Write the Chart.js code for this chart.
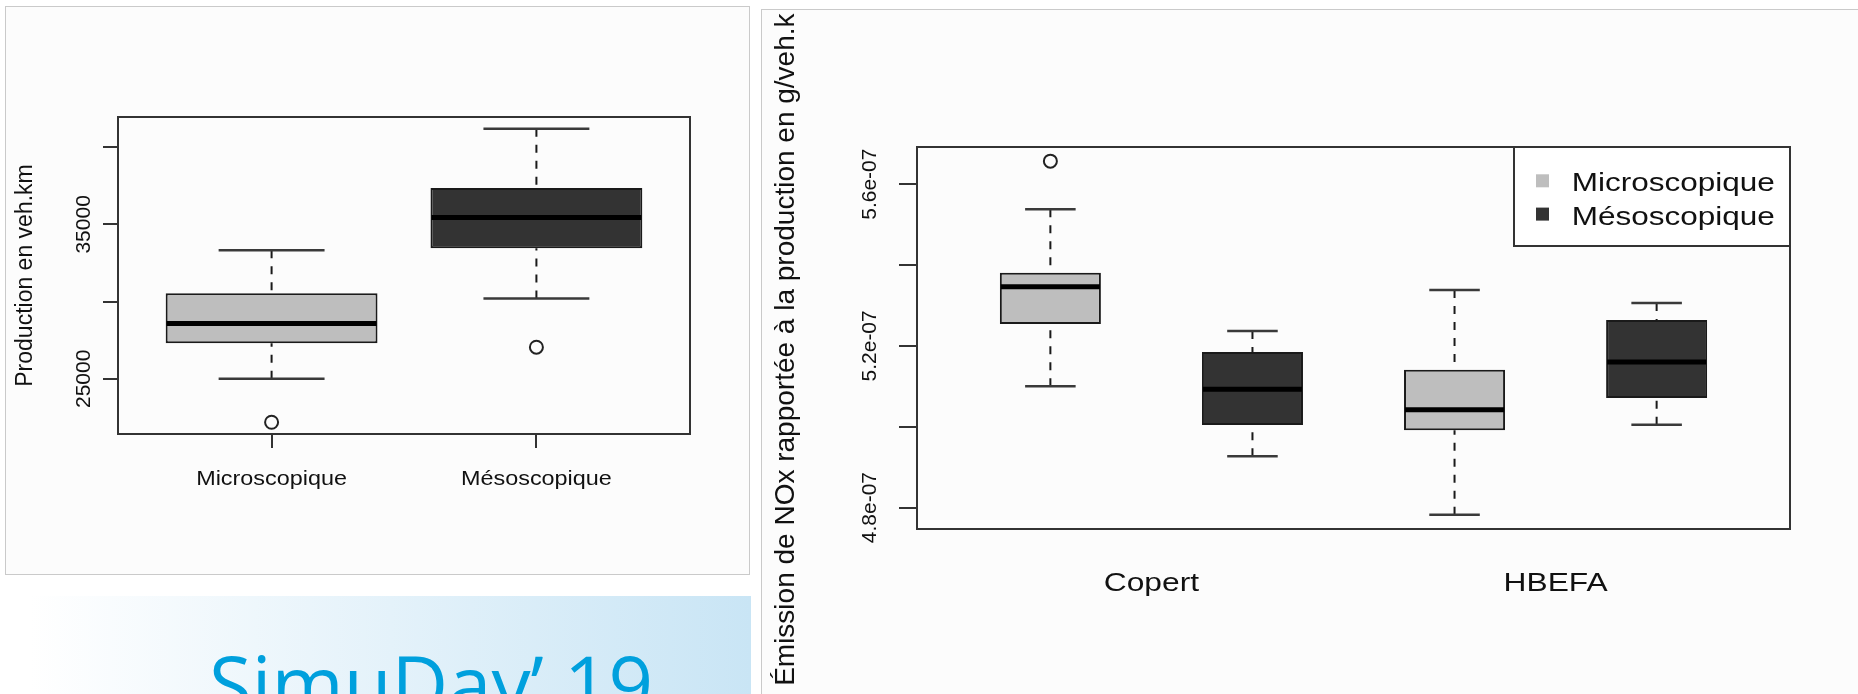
<!DOCTYPE html>
<html>
<head>
<meta charset="utf-8">
<title>Production et émission de NOx</title>
<script src="https://cdn.jsdelivr.net/npm/chart.js@4.4.1/dist/chart.umd.min.js"></script>
<style>
  html, body { margin: 0; padding: 0; background: #fff; }
  body { width: 1858px; height: 694px; position: relative; overflow: hidden; }
  .panel-left { position: absolute; left: 5px; top: 6px; width: 743px; height: 567px; border: 1px solid #cacaca; background: #fcfcfc; }
  .panel-right { position: absolute; left: 761px; top: 9px; width: 1200px; height: 800px; border-left: 1px solid #cacaca; border-top: 1px solid #cacaca; background: #fcfcfc; }
  .banner { position: absolute; left: 0; top: 596px; width: 751px; height: 98px; overflow: hidden;
            background: linear-gradient(to right, #ffffff 4%, #c9e5f5 100%); }
  .banner span { position: absolute; left: 209px; top: 48px; font: 78px 'Open Sans', sans-serif; line-height: 1;
                 color: #00a0dd; white-space: nowrap; }
  canvas { position: absolute; top: 0; }
  #prodChart { left: 0; }
  #noxChart { left: 755px; }
</style>
</head>
<body>
<div class="panel-left"></div>
<div class="panel-right"></div>
<div class="banner"><span>SimuDay’ 19</span></div>
<canvas id="prodChart" width="755" height="590"></canvas>
<canvas id="noxChart" width="1103" height="694"></canvas>

<script>
// Production en veh.km, one box per simulation type
var prodGroups = ['Microscopique', 'Mésoscopique'];
var prodLow = [25000, 30200];
var prodQ1 = [27300, 33460];
var prodMedian = [28580, 35450];
var prodQ3 = [30540, 37350];
var prodHigh = [33330, 41190];
var prodOutliers = [[22190], [27050]];
var prodTicks = [25000, 30000, 35000, 40000];
var prodTickLabels = ['25000', '', '35000', ''];

// NOx emission per veh.km, one value per model (Copert, HBEFA)
var noxModels = ['Copert', 'HBEFA'];
var noxSeries = ['Microscopique', 'Mésoscopique'];
var microLow = [5.100e-7, 4.782e-7];
var microQ1 = [5.254e-7, 4.991e-7];
var microMedian = [5.346e-7, 5.042e-7];
var microQ3 = [5.381e-7, 5.141e-7];
var microHigh = [5.538e-7, 5.338e-7];
var microOutliers = [[5.657e-7], []];
var mesoLow = [4.927e-7, 5.005e-7];
var mesoQ1 = [5.004e-7, 5.071e-7];
var mesoMedian = [5.093e-7, 5.160e-7];
var mesoQ3 = [5.185e-7, 5.264e-7];
var mesoHigh = [5.237e-7, 5.306e-7];
var mesoOutliers = [[], []];
var noxTicks = [4.8e-7, 5.0e-7, 5.2e-7, 5.4e-7, 5.6e-7];
var noxTickLabels = ['4.8e-07', '', '5.2e-07', '', '5.6e-07'];

var LIGHT = '#bebebe';
var DARK = '#333333';
var FONT = "'Liberation Sans', Arial, sans-serif";

(function () {
    'use strict';

    function stats(low, q1, med, q3, high, out) {
        return { low: low, q1: q1, med: med, q3: q3, high: high, out: out };
    }

    // y range like R: data extent plus 4% each side
    function valueRange(datasets) {
        var vals = [];
        datasets.forEach(function (d) {
            vals = vals.concat(d.stats.low, d.stats.high);
            d.stats.out.forEach(function (o) { vals = vals.concat(o); });
        });
        var lo = Math.min.apply(null, vals), hi = Math.max.apply(null, vals);
        var pad = (hi - lo) * 0.04;
        return [lo - pad, hi + pad];
    }

    function stretchText(ctx, text, x, y, sx) {
        ctx.save();
        ctx.translate(x, y);
        ctx.scale(sx, 1);
        ctx.fillText(text, 0, 0);
        ctx.restore();
    }

    function drawLegend(ctx, chart, L) {
        var a = chart.chartArea;
        var left = a.right - L.width, top = a.top;
        ctx.fillStyle = '#fff';
        ctx.fillRect(left, top, L.width, L.height);
        ctx.strokeStyle = '#333';
        ctx.lineWidth = 2;
        ctx.strokeRect(left, top, L.width, L.height);
        ctx.font = L.font + 'px ' + FONT;
        ctx.textAlign = 'left';
        chart.data.datasets.forEach(function (ds, i) {
            var base = top + L.firstBaseline + i * L.rowGap;
            ctx.fillStyle = ds.backgroundColor;
            ctx.fillRect(left + L.swatchX, base - 17, 13, 13);
            ctx.fillStyle = '#111';
            stretchText(ctx, ds.label, left + L.textX, base, L.stretch);
        });
    }

    // whiskers, caps, medians, outliers + axis text drawn on top of the boxes
    function boxplotPlugin(cfg) {
        return {
            id: 'boxplotMarks',
            afterDatasetsDraw: function (chart) {
                var ctx = chart.ctx, ys = chart.scales.y;
                chart.data.datasets.forEach(function (ds, di) {
                    var st = ds.stats;
                    chart.getDatasetMeta(di).data.forEach(function (bar, j) {
                        var cx = bar.x, half = bar.width / 2;
                        var pLow = ys.getPixelForValue(st.low[j]);
                        var pQ1 = ys.getPixelForValue(st.q1[j]);
                        var pMed = ys.getPixelForValue(st.med[j]);
                        var pQ3 = ys.getPixelForValue(st.q3[j]);
                        var pHigh = ys.getPixelForValue(st.high[j]);
                        ctx.save();
                        ctx.strokeStyle = '#1a1a1a';
                        ctx.lineWidth = 2;
                        ctx.setLineDash([8, 8]);
                        ctx.beginPath();
                        ctx.moveTo(cx, pLow); ctx.lineTo(cx, pQ1);
                        ctx.moveTo(cx, pHigh); ctx.lineTo(cx, pQ3);
                        ctx.stroke();
                        ctx.setLineDash([]);
                        ctx.strokeStyle = '#3a3a3a';
                        ctx.lineWidth = 2.5;
                        ctx.beginPath();
                        ctx.moveTo(cx - half / 2, pLow); ctx.lineTo(cx + half / 2, pLow);
                        ctx.moveTo(cx - half / 2, pHigh); ctx.lineTo(cx + half / 2, pHigh);
                        ctx.stroke();
                        ctx.strokeStyle = '#000';
                        ctx.lineWidth = 5;
                        ctx.beginPath();
                        ctx.moveTo(cx - half + 1, pMed); ctx.lineTo(cx + half - 1, pMed);
                        ctx.stroke();
                        ctx.strokeStyle = '#222';
                        ctx.lineWidth = 2;
                        st.out[j].forEach(function (v) {
                            ctx.beginPath();
                            ctx.arc(cx, ys.getPixelForValue(v), 6.5, 0, Math.PI * 2);
                            ctx.stroke();
                        });
                        ctx.restore();
                    });
                });
            },
            afterDraw: function (chart) {
                var ctx = chart.ctx, a = chart.chartArea;
                var xs = chart.scales.x, ys = chart.scales.y;
                ctx.save();
                ctx.strokeStyle = '#333';
                ctx.lineWidth = 2;
                ctx.strokeRect(a.left, a.top, a.right - a.left, a.bottom - a.top);

                ctx.fillStyle = '#111';
                ctx.textAlign = 'center';
                ctx.textBaseline = 'alphabetic';

                // rotated y tick labels, only where R printed them
                ctx.font = cfg.tickFont + 'px ' + FONT;
                ys.ticks.forEach(function (t, i) {
                    var label = cfg.yLabels[i];
                    if (!label) return;
                    ctx.save();
                    ctx.translate(a.left - cfg.yLabelGap, ys.getPixelForValue(t.value));
                    ctx.rotate(-Math.PI / 2);
                    ctx.fillText(label, 0, 0);
                    ctx.restore();
                });

                // group names under the axis
                ctx.font = cfg.xFont + 'px ' + FONT;
                xs.ticks.forEach(function (t, i) {
                    stretchText(ctx, cfg.xLabels[i], xs.getPixelForValue(t.value), a.bottom + cfg.xLabelGap, cfg.xStretch);
                });

                // y axis title
                ctx.save();
                if (cfg.titleClipTop) {
                    ctx.beginPath();
                    ctx.rect(0, cfg.titleClipTop, chart.width, chart.height);
                    ctx.clip();
                }
                ctx.font = cfg.titleFont + 'px ' + FONT;
                ctx.translate(a.left - cfg.titleGap, (a.top + a.bottom) / 2);
                ctx.rotate(-Math.PI / 2);
                ctx.fillText(cfg.title, 0, 0);
                ctx.restore();

                if (cfg.legend) drawLegend(ctx, chart, cfg.legend);
                ctx.restore();
            }
        };
    }

    function makeBoxChart(id, cfg) {
        var yr = valueRange(cfg.datasets);
        var n = cfg.boxCount;
        return new Chart(document.getElementById(id), {
            type: 'bar',
            data: { datasets: cfg.datasets },
            options: {
                responsive: false,
                animation: false,
                events: [],
                layout: { padding: cfg.padding },
                plugins: { legend: { display: false }, tooltip: { enabled: false } },
                datasets: {
                    bar: {
                        grouped: false,
                        borderSkipped: false,
                        borderWidth: 2,
                        borderColor: '#1a1a1a',
                        categoryPercentage: cfg.boxWidth,
                        barPercentage: 1
                    }
                },
                scales: {
                    x: {
                        type: 'linear',
                        offset: false,
                        min: 0.5 - 0.04 * n,
                        max: n + 0.5 + 0.04 * n,
                        afterBuildTicks: function (s) { s.ticks = cfg.xTicks.map(function (v) { return { value: v }; }); },
                        afterFit: function (s) { s.height = 60; },
                        ticks: { display: false },
                        border: { display: false },
                        grid: {
                            display: cfg.xTickMarks,
                            offset: false,
                            drawOnChartArea: false,
                            tickLength: 14,
                            color: '#333',
                            lineWidth: 2
                        }
                    },
                    y: {
                        min: yr[0],
                        max: yr[1],
                        afterBuildTicks: function (s) { s.ticks = cfg.yTicks.map(function (v) { return { value: v }; }); },
                        afterFit: function (s) { s.width = cfg.yAxisWidth; },
                        ticks: { display: false },
                        border: { display: false },
                        grid: {
                            drawOnChartArea: false,
                            tickLength: cfg.yTickLength,
                            color: '#333',
                            lineWidth: 2
                        }
                    }
                }
            },
            plugins: [boxplotPlugin(cfg)]
        });
    }

    document.addEventListener('DOMContentLoaded', function () {
        Chart.defaults.font.family = FONT;

        // ── Production en veh.km
        makeBoxChart('prodChart', {
            boxCount: prodGroups.length,
            boxWidth: 0.8,
            padding: { left: 0, top: 117, right: 65, bottom: 96 },
            yAxisWidth: 118,
            yTickLength: 15,
            xTickMarks: true,
            xTicks: prodGroups.map(function (g, i) { return i + 1; }),
            xLabels: prodGroups,
            yTicks: prodTicks,
            yLabels: prodTickLabels,
            tickFont: 21, yLabelGap: 28.5,
            xFont: 20, xLabelGap: 51, xStretch: 1.17,
            titleFont: 23, titleGap: 86.5,
            title: 'Production en veh.km',
            datasets: [{
                label: 'Production',
                data: prodGroups.map(function (g, i) { return { x: i + 1, y: [prodQ1[i], prodQ3[i]] }; }),
                backgroundColor: [LIGHT, DARK],
                stats: stats(prodLow, prodQ1, prodMedian, prodQ3, prodHigh, prodOutliers)
            }]
        });

        // ── NOx par veh.km, Copert vs HBEFA
        var micro = stats(microLow, microQ1, microMedian, microQ3, microHigh, microOutliers);
        var meso = stats(mesoLow, mesoQ1, mesoMedian, mesoQ3, mesoHigh, mesoOutliers);
        makeBoxChart('noxChart', {
            boxCount: noxModels.length * noxSeries.length,
            boxWidth: 0.5,
            padding: { left: 0, top: 147, right: 68, bottom: 105 },
            yAxisWidth: 162,
            yTickLength: 18,
            xTickMarks: false,
            xTicks: noxModels.map(function (m, i) { return i * 2 + 1.5; }),
            xLabels: noxModels,
            yTicks: noxTicks,
            yLabels: noxTickLabels,
            tickFont: 21, yLabelGap: 41.5,
            xFont: 26, xLabelGap: 61.7, xStretch: 1.22,
            titleFont: 28, titleGap: 123, titleClipTop: 12,
            title: 'Émission de NOx rapportée à la production en g/veh.km',
            legend: { width: 276, height: 99, font: 25, stretch: 1.26, firstBaseline: 44.3, rowGap: 33.3, swatchX: 22, textX: 57.7 },
            datasets: [micro, meso].map(function (st, si) {
                return {
                    label: noxSeries[si],
                    data: noxModels.map(function (m, i) { return { x: i * 2 + si + 1, y: [st.q1[i], st.q3[i]] }; }),
                    backgroundColor: si === 0 ? LIGHT : DARK,
                    stats: st
                };
            })
        });
    });
})();
</script>
</body>
</html>
